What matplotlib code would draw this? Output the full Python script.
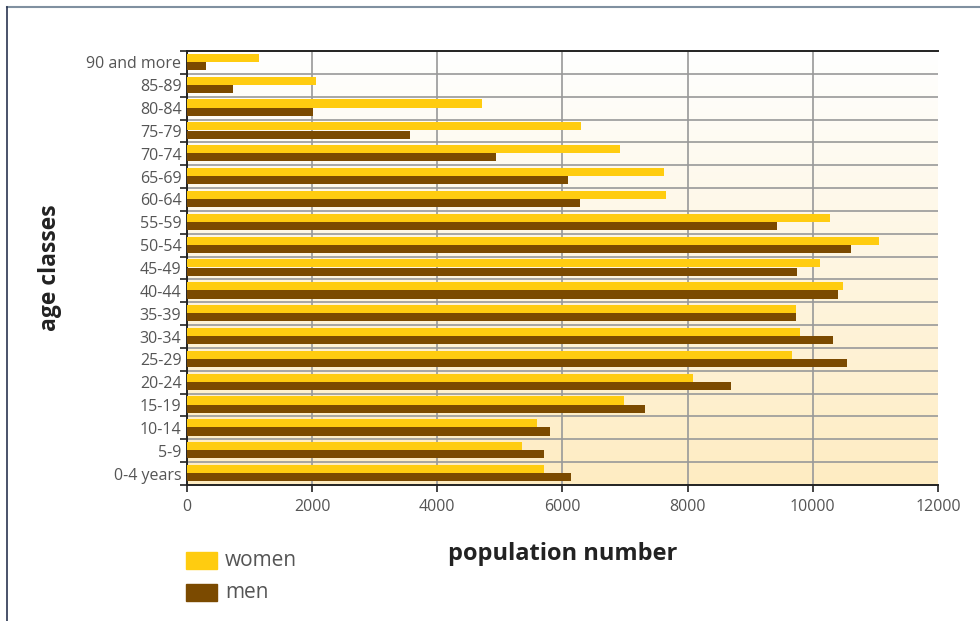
import numpy as np
import matplotlib.pyplot as plt
from matplotlib.lines import Line2D
from matplotlib.patches import Rectangle

plt.rcParams['font.family'] = ['Open Sans', 'DejaVu Sans']

# data, bottom (0-4 years) to top (90 and more)
age_classes = ["0-4 years", "5-9", "10-14", "15-19", "20-24", "25-29", "30-34",
               "35-39", "40-44", "45-49", "50-54", "55-59", "60-64", "65-69",
               "70-74", "75-79", "80-84", "85-89", "90 and more"]
women = [5705, 5350, 5590, 6980, 8090, 9670, 9800, 9730, 10480, 10115,
         11060, 10280, 7650, 7620, 6920, 6300, 4710, 2055, 1150]
men = [6135, 5705, 5800, 7320, 8690, 10550, 10320, 9730, 10400, 9750,
       10610, 9430, 6280, 6090, 4940, 3560, 2010, 730, 300]
x_ticks = [0, 2000, 4000, 6000, 8000, 10000, 12000]

women_color = "#FFCC10"
men_color = "#7B4A00"
label_color = "#555555"

fig = plt.figure(figsize=(9.8, 6.21), dpi=100)
ax = fig.add_axes([0.1908, 0.219, 0.7663, 0.6989])

y = np.arange(len(age_classes))
bar_h = 0.355
ax.barh(y + 0.2, women, height=bar_h, color=women_color, zorder=3)
ax.barh(y - 0.16, men, height=bar_h, color=men_color, zorder=3)

ax.set_xlim(0, 12000)
ax.set_ylim(-0.5, len(age_classes) - 0.5)

# background gradient, white at top to pale yellow at bottom
grad = np.linspace(0, 1, 256).reshape(-1, 1)
top = np.array([1.0, 1.0, 1.0])
bottom = np.array([254, 236, 194]) / 255
img = top + (bottom - top) * grad[:, :, None]
ax.imshow(img, extent=[0, 1, 0, 1], transform=ax.transAxes, aspect="auto", zorder=0)
ax.set_facecolor("white")

# ticks and grid
ax.set_xticks(x_ticks)
ax.set_xticklabels([str(v) for v in x_ticks])
ax.set_yticks(y)
ax.set_yticklabels(age_classes)
ax.set_yticks(np.arange(-0.5, len(age_classes), 1.0), minor=True)
ax.tick_params(axis="y", which="major", length=0, pad=4, labelsize=11.5, labelcolor=label_color)
ax.tick_params(axis="y", which="minor", length=5, width=1.2, direction="out", color="#222222")
ax.tick_params(axis="x", length=5, width=1.2, direction="out", color="#222222",
               labelsize=11.5, labelcolor=label_color, pad=5)

for v in x_ticks[1:-1]:
    ax.axvline(v, color="#999999", linewidth=1.2, zorder=1)
for b in np.arange(0.5, len(age_classes) - 1, 1.0):
    ax.axhline(b, color="#999999", linewidth=1.2, zorder=1)

for side in ["left", "bottom", "top"]:
    ax.spines[side].set_color("#222222")
    ax.spines[side].set_linewidth(1.4)
ax.spines["right"].set_visible(False)

ax.set_xlabel("population number", fontsize=17, fontweight="bold", color="#222222")
ax.xaxis.set_label_coords(0.5, -0.131)
ax.set_ylabel("age classes", fontsize=16.5, fontweight="bold", color="#222222")
ax.yaxis.set_label_coords(-0.166, 0.5)

# legend drawn as patches below the axis
fig.add_artist(Rectangle((186 / 980, 1 - 569 / 621), 31 / 980, 17 / 621,
                         color=women_color, transform=fig.transFigure))
fig.add_artist(Rectangle((186 / 980, 1 - 601 / 621), 31 / 980, 17 / 621,
                         color=men_color, transform=fig.transFigure))
fig.text(225 / 980, 1 - 560 / 621, "women", fontsize=15, color=label_color, va="center")
fig.text(225 / 980, 1 - 592 / 621, "men", fontsize=15, color=label_color, va="center")

# outer frame lines
fig.add_artist(Line2D([7 / 980, 1], [1 - 7 / 621, 1 - 7 / 621], color="#8090A0", linewidth=1.5,
                      transform=fig.transFigure))
fig.add_artist(Line2D([7 / 980, 7 / 980], [0, 1 - 7 / 621], color="#2A3550", linewidth=1.2,
                      transform=fig.transFigure))

fig.savefig("out.png", dpi=100)
